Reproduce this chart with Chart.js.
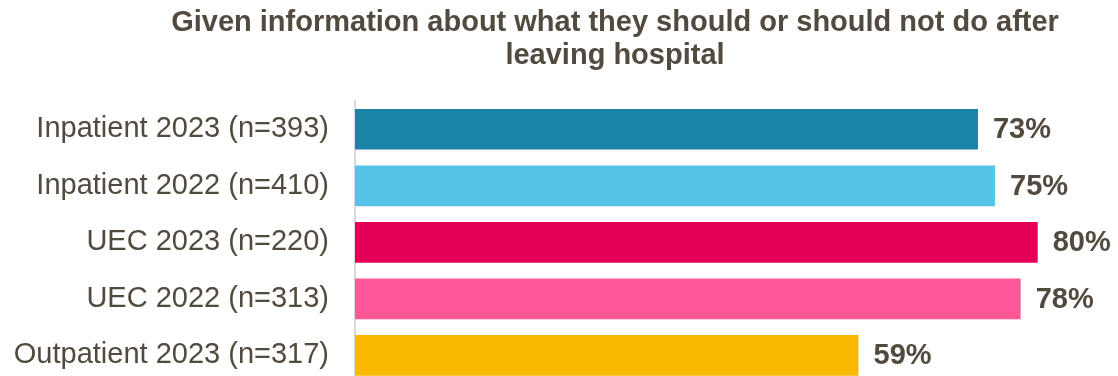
<!DOCTYPE html>
<html>
<head>
<meta charset="utf-8">
<script src="https://cdn.jsdelivr.net/npm/chart.js@4"></script>
<style>
  html, body { margin: 0; padding: 0; background: #fff; overflow: hidden; }
  #wrap { width: 1118px; height: 376px; overflow: hidden; }
  #box { position: relative; width: 1118px; height: 427px; }
</style>
</head>
<body>
<div id="wrap"><div id="box"><canvas id="chart"></canvas></div></div>
<script>
// Chart data
const titleLines = ['Given information about what they should or should not do after', 'leaving hospital'];
const categories = ['Inpatient 2023 (n=393)', 'Inpatient 2022 (n=410)', 'UEC 2023 (n=220)', 'UEC 2022 (n=313)', 'Outpatient 2023 (n=317)'];
const values = [73, 75, 80, 78, 59];
const barColors = ['#1a84a8', '#56c4e8', '#e40057', '#ff5898', '#fbb800'];

const textColor = '#524a3f';
const fontFamily = '"Liberation Sans", Arial, sans-serif';

// Title drawn centred over the plot block
const titlePlugin = {
  id: 'titleText',
  afterDraw(chart) {
    const ctx = chart.ctx;
    ctx.save();
    ctx.fillStyle = textColor;
    ctx.font = 'bold 29px ' + fontFamily;
    ctx.textAlign = 'center';
    ctx.textBaseline = 'middle';
    titleLines.forEach((line, i) => ctx.fillText(line, 615, 23 + i * 33));
    ctx.restore();
  }
};

// Percent labels to the right of each bar
const valueLabels = {
  id: 'valueLabels',
  afterDatasetsDraw(chart) {
    const ctx = chart.ctx;
    const meta = chart.getDatasetMeta(0);
    ctx.save();
    ctx.fillStyle = textColor;
    ctx.font = 'bold 29px ' + fontFamily;
    ctx.textAlign = 'left';
    ctx.textBaseline = 'middle';
    meta.data.forEach((bar, i) => {
      ctx.fillText(values[i] + '%', bar.x + 15, bar.y + 1);
    });
    ctx.restore();
  }
};

new Chart(document.getElementById('chart'), {
  type: 'bar',
  data: {
    labels: categories,
    datasets: [{
      data: values,
      backgroundColor: barColors,
      borderWidth: 0,
      categoryPercentage: 1,
      barPercentage: 0.72
    }]
  },
  options: {
    indexAxis: 'y',
    responsive: true,
    maintainAspectRatio: false,
    animation: false,
    devicePixelRatio: 1,
    layout: { padding: { top: 101, right: 12, bottom: 0, left: 0 } },
    plugins: { legend: { display: false }, tooltip: { enabled: false } },
    scales: {
      x: {
        display: false,
        min: 0,
        max: 88
      },
      y: {
        afterFit(scale) { scale.width = 355; },
        grid: { display: false, drawTicks: false },
        border: { display: true, color: '#d9d9d9', width: 2 },
        ticks: {
          color: textColor,
          padding: 26,
          font: { family: fontFamily, size: 29 }
        }
      }
    }
  },
  plugins: [titlePlugin, valueLabels]
});
</script>
</body>
</html>
